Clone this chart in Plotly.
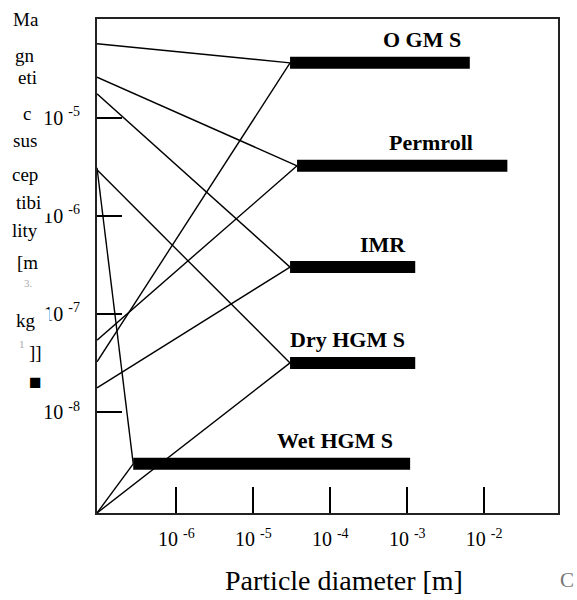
import math
import plotly.graph_objects as go

# ---------------- data ----------------
methods = ["OGMS", "Permroll", "IMR", "Dry HGMS", "Wet HGMS"]
method_labels = ["O GM S", "Permroll", "IMR", "Dry HGM S", "Wet HGM S"]
diam_min = [3.0e-5, 3.7e-5, 3.0e-5, 3.0e-5, 2.75e-7]      # particle diameter, bar start [m]
diam_max = [6.5e-3, 2.0e-2, 1.27e-3, 1.27e-3, 1.09e-3]    # particle diameter, bar end [m]
chi_bar = [3.64e-5, 3.24e-6, 3.0e-7, 3.16e-8, 2.95e-9]   # level of each bar
chi_upper = [5.7e-5, 2.6e-5, 1.76e-5, 2.95e-6, 3.1e-6]   # upper susceptibility on the axis
chi_lower = [3.24e-8, 5.4e-8, 1.76e-8, 9.3e-10, 9.3e-10]  # lower susceptibility on the axis

diam_axis = [9.3e-8, 9.1e-2]
chi_axis = [9.3e-10, 1.02e-4]

x_tick_vals = [1e-6, 1e-5, 1e-4, 1e-3, 1e-2]
x_tick_text = ["10 <sup>-6</sup>", "10 <sup>-5</sup>", "10 <sup>-4</sup>",
               "10 <sup>-3</sup>", "10 <sup>-2</sup>"]
y_tick_vals = [1e-8, 1e-7, 1e-6, 1e-5]
y_tick_text = ["10 <sup>-8</sup>", "10 <sup>-7</sup>", "10 <sup>-6</sup>", "10 <sup>-5</sup>"]

x_title = "Particle diameter [m]"
y_title_parts = ["Ma", "gn", "eti", "c", "sus", "cep", "tibi", "lity", "[m", "3.",
                 "kg", "1", "]]", "\u25a0"]

# ---------------- layout helpers ----------------
W, H = 577, 600
PL, PR, PT, PB = 97, 558, 19, 513
def px(x):
    return (x - PL) / (PR - PL)
def py(y):
    return (PB - y) / (PB - PT)

SERIF = "Liberation Serif"

fig = go.Figure()

# connecting thin lines
for i in range(len(methods)):
    for chi_end in (chi_upper[i], chi_lower[i]):
        fig.add_trace(go.Scatter(
            x=[diam_axis[0], diam_min[i]], y=[chi_end, chi_bar[i]],
            mode="lines", line=dict(color="black", width=1.4),
            hoverinfo="skip", showlegend=False))

# thick bars
for i in range(len(methods)):
    fig.add_trace(go.Scatter(
        x=[diam_min[i], diam_max[i]], y=[chi_bar[i], chi_bar[i]],
        mode="lines", line=dict(color="black", width=12),
        name=methods[i], showlegend=False))

annotations = []
label_xshift = [-7, -32, -7, -8, -15]
for i in range(len(methods)):
    annotations.append(dict(
        x=math.log10(diam_max[i]), y=math.log10(chi_bar[i]), xref="x", yref="y",
        text="<b>%s</b>" % method_labels[i], showarrow=False,
        xanchor="right", yanchor="middle", xshift=label_xshift[i], yshift=23,
        font=dict(family=SERIF, size=22, color="black")))

# y-axis title fragments (as in the scanned original; some overlap the tick labels)
frag_pos = [(26, 20), (25, 55), (27, 77), (27, 113), (25, 140), (25, 174), (15, 203),
            (25, 230), (27, 262), (28, 283), (15, 320), (22, 344), (35, 352), (35, 382)]
pad_right = {"tibi": 2, "kg": 3}
for t, (fx, fy) in zip(y_title_parts, frag_pos):
    small = t in ("3.", "1")
    left = t in pad_right
    annotations.append(dict(
        x=px(fx), y=py(fy), xref="paper", yref="paper",
        text=t + "&nbsp;" * pad_right.get(t, 0), showarrow=False,
        xanchor="left" if left else "center", yanchor="middle",
        bgcolor=None if small else "white", borderpad=0,
        font=dict(family=SERIF, size=11 if small else (21 if t == "\u25a0" else 19),
                  color="#aaaaaa" if small else "black")))

annotations.append(dict(
    x=px(343.5), y=py(580), xref="paper", yref="paper", text=x_title, showarrow=False,
    xanchor="center", yanchor="middle", font=dict(family=SERIF, size=28, color="black")))
annotations.append(dict(
    x=px(576), y=py(580), xref="paper", yref="paper", text="C", showarrow=False,
    xanchor="right", yanchor="middle", font=dict(family=SERIF, size=21, color="#777777")))

fig.update_layout(
    width=W, height=H,
    margin=dict(l=PL, r=W - PR, t=PT, b=H - PB),
    paper_bgcolor="white", plot_bgcolor="white",
    annotations=annotations,
    xaxis=dict(type="log", range=[math.log10(diam_axis[0]), math.log10(diam_axis[1])],
               tickvals=x_tick_vals, ticktext=x_tick_text, ticks="inside", ticklen=26,
               tickwidth=2, tickcolor="black", ticklabelstandoff=7,
               showgrid=False, zeroline=False, showline=True, mirror=True,
               linecolor="#222222", linewidth=2,
               tickfont=dict(family=SERIF, size=20, color="black")),
    yaxis=dict(type="log", range=[math.log10(chi_axis[0]), math.log10(chi_axis[1])],
               tickvals=y_tick_vals, ticktext=y_tick_text, ticks="inside", ticklen=25,
               tickwidth=2, tickcolor="black", ticklabelstandoff=11,
               showgrid=False, zeroline=False, showline=True, mirror=True,
               linecolor="#222222", linewidth=2,
               tickfont=dict(family=SERIF, size=20, color="black")),
)

fig.write_html("out.html", config={"displayModeBar": False},
               post_script="document.body.style.margin='0px';")
